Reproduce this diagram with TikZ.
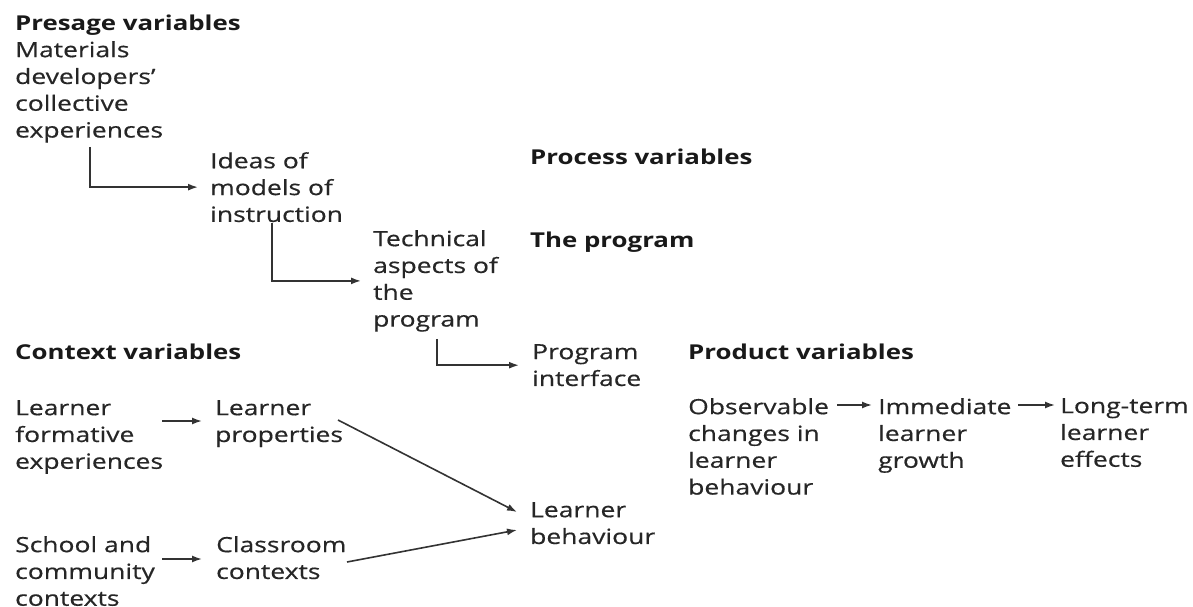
\documentclass[tikz,border=0pt]{standalone}
\usepackage{fontspec}
\setmainfont{Open Sans}[FakeStretch=1.26, UprightFeatures={FakeBold=0.5}]
\usetikzlibrary{arrows.meta}
\begin{document}
\begin{tikzpicture}[x=1pt,y=-1pt,
  lbl/.style={anchor=north west, inner sep=0pt, align=left, text=black!85,
    font=\fontsize{21}{26.8}\selectfont},
  hdr/.style={lbl, text=black!90, font=\fontsize{20.5}{26.8}\selectfont\bfseries},
  arr/.style={-{Latex[length=10pt,width=7pt]}, line width=1.6pt, black!80}]
\useasboundingbox (0,0) rectangle (1193,607);
% headings
\node[hdr] (presage) at (15,15) {Presage variables};
\node[hdr] (process) at (530,149) {Process variables};
\node[hdr] (theprog) at (530,232) {The program};
\node[hdr] (context) at (15,344) {Context variables};
\node[hdr] (product) at (688,344) {Product variables};
% boxes
\node[lbl] (mat) at (15,41) {Materials\\developers'\\collective\\experiences};
\node[lbl] (ideas) at (210,152) {Ideas of\\models of\\instruction};
\node[lbl] (tech) at (373,230) {Technical\\aspects of\\the\\program};
\node[lbl] (prog) at (532,344) {Program\\interface};
\node[lbl] (lfe) at (15,400) {Learner\\formative\\experiences};
\node[lbl] (lp) at (215,400) {Learner\\properties};
\node[lbl] (lb) at (530,502) {Learner\\behaviour};
\node[lbl] (sch) at (15,536) {School and\\community\\contexts};
\node[lbl] (cc) at (216,536) {Classroom\\contexts};
\node[lbl] (obs) at (688,398) {Observable\\changes in\\learner\\behaviour};
\node[lbl] (imm) at (878,398) {Immediate\\learner\\growth};
\node[lbl] (long) at (1060,398) {Long-term\\learner\\effects};
% connectors
\draw[arr] ([xshift=75pt,yshift=-4pt]mat.south west) |- ([xshift=-12pt]ideas.west);
\draw[arr] ([xshift=62pt,yshift=-1pt]ideas.south west) |- ([xshift=-12pt]tech.west);
\draw[arr] ([xshift=64pt,yshift=-7pt]tech.south west) |- ([xshift=-13pt]prog.west);
\draw[arr] ([xshift=147pt,yshift=-21pt]lfe.north west) -- ([xshift=-13pt,yshift=-21pt]lp.north west);
\draw[arr] ([xshift=147pt,yshift=-23pt]sch.north west) -- ([xshift=-14pt,yshift=-23pt]cc.north west);
\draw[arr] ([xshift=123pt,yshift=-20pt]lp.north west) -- ([xshift=-13pt,yshift=-10pt]lb.north west);
\draw[arr] ([xshift=131pt,yshift=-26pt]cc.north west) -- ([xshift=-13pt,yshift=-28pt]lb.north west);
\draw[arr] ([xshift=149pt,yshift=-7pt]obs.north west) -- ([xshift=-6pt,yshift=-7pt]imm.north west);
\draw[arr] ([xshift=140pt,yshift=-7pt]imm.north west) -- ([xshift=-5pt,yshift=-7pt]long.north west);
\end{tikzpicture}
\end{document}
